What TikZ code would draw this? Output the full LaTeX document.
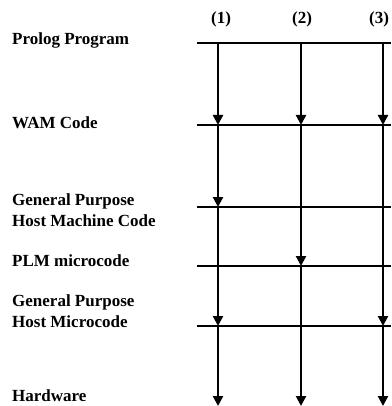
\documentclass[tikz,border=0pt]{standalone}
\usepackage{amsmath, amssymb}
\usepackage{xcolor}
\usepackage{fontspec}
\setmainfont{Liberation Serif}
\usepackage{tikz}
\usetikzlibrary{arrows.meta}

\begin{document}
\begin{tikzpicture}[x=1pt,y=-1pt,
    level/.style={line width=2.4pt},
    step arrow/.style={line width=2.2pt,-{Triangle[length=10pt,width=10pt]}},
    lbl/.style={anchor=west,align=left,inner sep=0pt,font=\fontsize{17}{21}\selectfont\bfseries}]
      \useasboundingbox (0,0) rectangle (391,406);

      % Level lines
      \coordinate (p0) at (197,43);   \coordinate (q0) at (391,43);
      \coordinate (p1) at (197,125);  \coordinate (q1) at (391,125);
      \coordinate (p2) at (197,207);  \coordinate (q2) at (391,207);
      \coordinate (p3) at (197,266);  \coordinate (q3) at (391,266);
      \coordinate (p4) at (197,326);  \coordinate (q4) at (391,326);
      \foreach \i in {0,...,4}
        \draw[level] (p\i) -- (q\i);

      % Label levels
      \node[lbl] (prolog) at (12,40) {Prolog Program};
      \node[lbl] (wam) at (12,123) {WAM Code};
      \node[lbl] (hostcode) at (12,210) {General Purpose\\Host Machine Code};
      \node[lbl] (plm) at (12,261) {PLM microcode};
      \node[lbl] (hostmicro) at (12,311) {General Purpose\\Host Microcode};
      \node[lbl,anchor=south west] (hw) at (12,402) {Hardware};

      % Label paths
      \node[font=\fontsize{17}{17}\selectfont\bfseries] (c1) at (221,19) {(1)};
      \node[font=\fontsize{17}{17}\selectfont\bfseries] (c2) at (302,19) {(2)};
      \node[font=\fontsize{17}{17}\selectfont\bfseries] (c3) at (379,19) {(3)};

      % Path (1)
      \draw[step arrow] (218,43) coordinate (a0) -- (218,125) coordinate (a1);
      \draw[step arrow] (a1) -- (218,207) coordinate (a2);
      \draw[step arrow] (a2) -- (218,326) coordinate (a4);
      \draw[step arrow] (a4) -- (218,406) coordinate (a5);

      % Path (2)
      \draw[step arrow] (301,43) coordinate (b0) -- (301,125) coordinate (b1);
      \draw[step arrow] (b1) -- (301,266) coordinate (b3);
      \draw[step arrow] (b3) -- (301,406) coordinate (b5);

      % Path (3)
      \draw[step arrow] (383,43) coordinate (d0) -- (383,125) coordinate (d1);
      \draw[step arrow] (d1) -- (383,326) coordinate (d4);
      \draw[step arrow] (d4) -- (383,406) coordinate (d5);
    \end{tikzpicture}
\end{document}
